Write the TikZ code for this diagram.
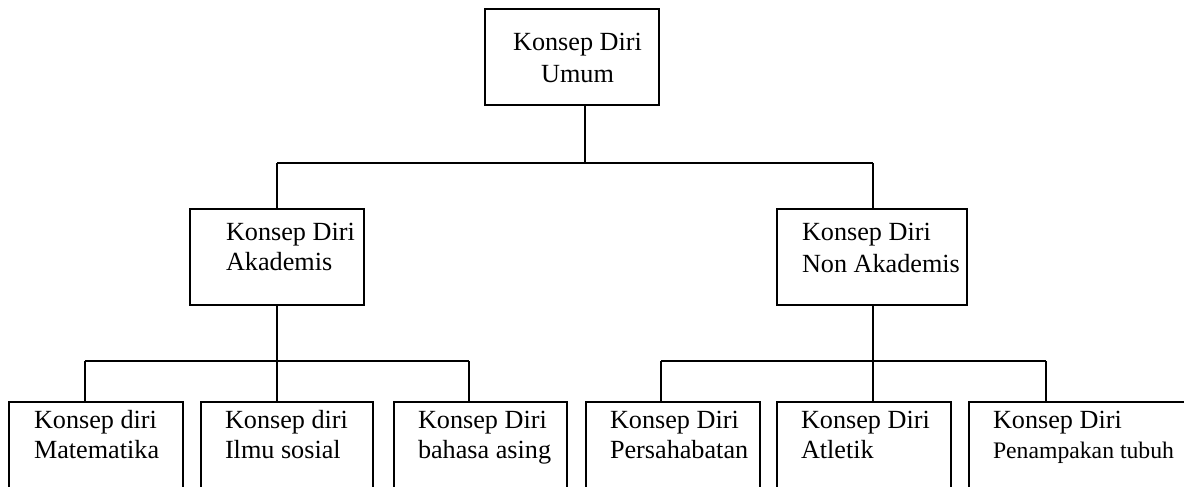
\documentclass[tikz,border=0pt]{standalone}
\usepackage{fontspec}
\setmainfont{Liberation Serif}
\begin{document}
\begin{tikzpicture}[x=0.5pt,y=-0.5pt,
  line width=1pt,
  box/.style={draw, rectangle, line width=1pt, inner sep=0pt, anchor=north west},
  lbl/.style={inner sep=0pt, anchor=base west, align=left, font=\fontsize{13.1}{15}\selectfont},
  lblc/.style={inner sep=0pt, anchor=base, align=center, font=\fontsize{13.1}{16.5}\selectfont},
  conn/.style={line width=1pt}]
\useasboundingbox (0,0) rectangle (1184,487);
\clip (0,0) rectangle (1184,487);

% level 0
\node[box, minimum width=87pt, minimum height=48pt] (umum) at (484,8) {};
\node[lblc] (tumum) at (577.5,83) {Konsep Diri\\Umum};

% level 1
\node[box, minimum width=87pt, minimum height=48pt] (akad) at (189,208) {};
\node[lbl] (takad) at (225,270) {Konsep Diri\\Akademis};
\node[box, minimum width=95pt, minimum height=48pt] (nonak) at (776,208) {};
\node[lbl, font=\fontsize{13.1}{16}\selectfont] (tnonak) at (801,272) {Konsep Diri\\Non Akademis};

% level 2
\node[box, minimum width=87pt, minimum height=50pt] (b1) at (8,401) {};
\node[lbl] (tb1) at (33,458) {Konsep diri\\Matematika};
\node[box, minimum width=86pt, minimum height=50pt] (b2) at (200,401) {};
\node[lbl] (tb2) at (224,458) {Konsep diri\\Ilmu sosial};
\node[box, minimum width=86.5pt, minimum height=50pt] (b3) at (392.5,401) {};
\node[lbl] (tb3) at (417,458) {Konsep Diri\\bahasa asing};
\node[box, minimum width=87pt, minimum height=50pt] (b4) at (584.5,401) {};
\node[lbl] (tb4) at (609,458) {Konsep Diri\\Persahabatan};
\node[box, minimum width=87pt, minimum height=50pt] (b5) at (776,401) {};
\node[lbl] (tb5) at (800,458) {Konsep Diri\\Atletik};
\node[box, minimum width=120pt, minimum height=50pt] (b6) at (968,401) {};
\node[lbl, font=\fontsize{13.1}{15}\selectfont] (tb6) at (992,458) {Konsep Diri\\\fontsize{11.85}{15}\selectfont Penampakan tubuh};

% junctions
\coordinate (j0) at (585,163);
\coordinate (h0l) at (277,163);
\coordinate (h0r) at (873,163);
\coordinate (j1) at (277,361);
\coordinate (h1l) at (85,361);
\coordinate (h1r) at (469,361);
\coordinate (j2) at (873,361);
\coordinate (h2l) at (661,361);
\coordinate (h2r) at (1046,361);

% connectors
\draw[conn] (umum.south -| j0) -- (j0);
\draw[conn] (h0l) -- (h0r);
\draw[conn] (h0l) -- (h0l |- akad.north);
\draw[conn] (h0r) -- (h0r |- nonak.north);

\draw[conn] (akad.south -| j1) -- (j1);
\draw[conn] (h1l) -- (h1r);
\draw[conn] (h1l) -- (h1l |- b1.north);
\draw[conn] (j1) -- (j1 |- b2.north);
\draw[conn] (h1r) -- (h1r |- b3.north);

\draw[conn] (nonak.south -| j2) -- (j2 |- b5.north);
\draw[conn] (h2l) -- (h2r);
\draw[conn] (h2l) -- (h2l |- b4.north);
\draw[conn] (h2r) -- (h2r |- b6.north);
\end{tikzpicture}
\end{document}
